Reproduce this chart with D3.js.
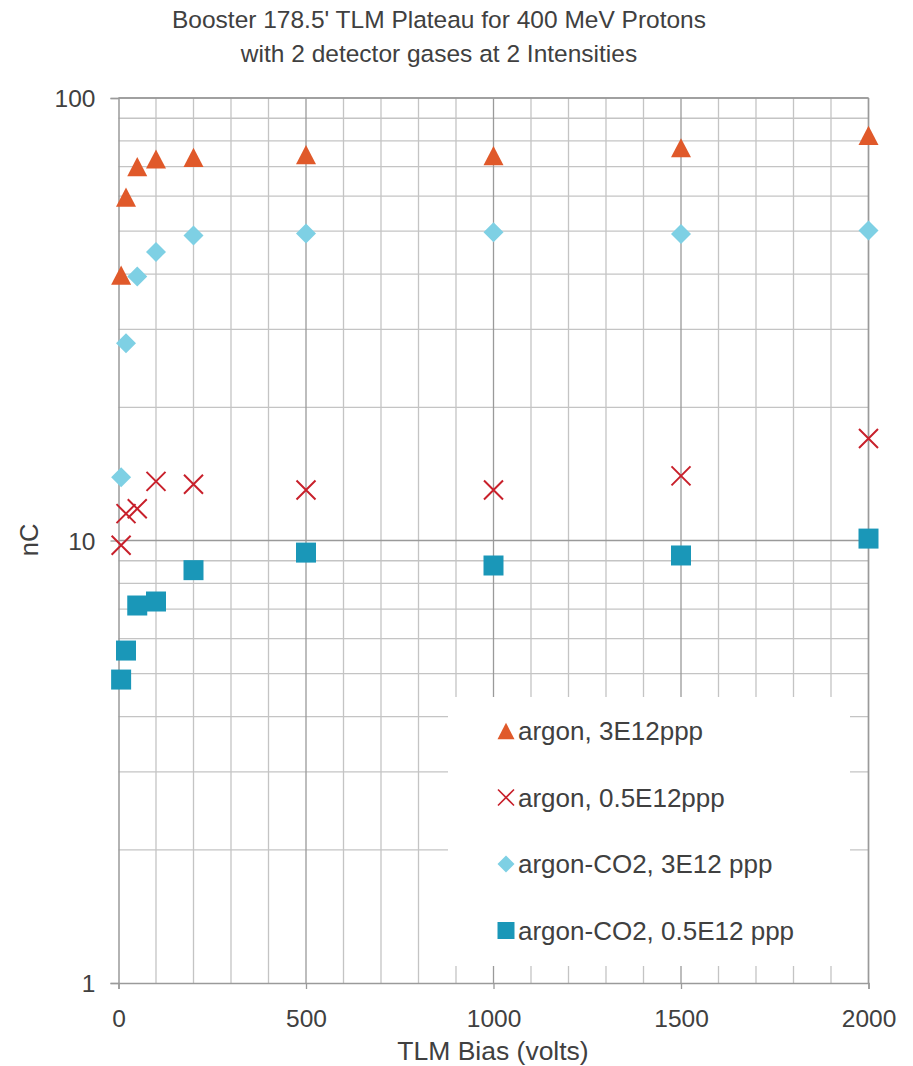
<!DOCTYPE html>
<html>
<head>
<meta charset="utf-8">
<script src="https://cdn.jsdelivr.net/npm/d3@7/dist/d3.min.js"></script>
<style>
  body { margin: 0; background: #fff; }
  svg { font-family: "Liberation Sans", Arial, sans-serif; }
</style>
</head>
<body>
<div id="chart"></div>
<script>
// DATA
const biasVolts = [7, 20, 50, 100, 200, 500, 1000, 1500, 2000];
const argon3E12 = [39.8, 59.7, 70.0, 72.8, 73.4, 74.5, 74.1, 77.2, 82.3];
const argon05E12 = [9.76, 11.5, 11.8, 13.6, 13.4, 13.0, 13.0, 14.0, 17.0];
const argonCO2_3E12 = [13.9, 27.9, 39.5, 44.9, 48.9, 49.4, 49.7, 49.3, 50.2];
const argonCO2_05E12 = [4.85, 5.64, 7.13, 7.28, 8.57, 9.39, 8.78, 9.25, 10.1];
const seriesNames = ["argon, 3E12ppp", "argon, 0.5E12ppp", "argon-CO2, 3E12 ppp", "argon-CO2, 0.5E12 ppp"];
const xTicks = [0, 500, 1000, 1500, 2000];
const yTicks = [1, 10, 100];

// GLOBAL LAYOUT
const width = 913, height = 1066;
const plot = { left: 118.5, right: 868.5, top: 98, bottom: 983 };
const textColor = "#404040";

const svg = d3.select("#chart").append("svg")
  .attr("width", width)
  .attr("height", height);

const x = d3.scaleLinear().domain([0, 2000]).range([plot.left, plot.right]);
const y = d3.scaleLog().domain([1, 100]).range([plot.bottom, plot.top]);

// GRIDLINES
const minorX = d3.range(100, 2000, 100).filter(v => v % 500 !== 0);
const minorY = [];
[1, 10].forEach(d => { for (let k = 2; k <= 9; k++) minorY.push(d * k); });

const grid = svg.append("g");
grid.selectAll(".minor-x").data(minorX).enter().append("line")
  .attr("x1", d => x(d)).attr("x2", d => x(d))
  .attr("y1", plot.top).attr("y2", plot.bottom)
  .attr("stroke", "#c4c4c4").attr("stroke-width", 1.3);
grid.selectAll(".minor-y").data(minorY).enter().append("line")
  .attr("x1", plot.left).attr("x2", plot.right)
  .attr("y1", d => y(d)).attr("y2", d => y(d))
  .attr("stroke", "#c4c4c4").attr("stroke-width", 1.3);
grid.selectAll(".major-x").data(xTicks.slice(1)).enter().append("line")
  .attr("x1", d => x(d)).attr("x2", d => x(d))
  .attr("y1", plot.top).attr("y2", plot.bottom)
  .attr("stroke", "#9a9a9a").attr("stroke-width", 1.3);
grid.selectAll(".major-y").data(yTicks.slice(1)).enter().append("line")
  .attr("x1", plot.left).attr("x2", plot.right)
  .attr("y1", d => y(d)).attr("y2", d => y(d))
  .attr("stroke", "#9a9a9a").attr("stroke-width", 1.3);

// LEGEND BACKGROUND (covers the grid)
const legendBox = { x: 448, y: 697, w: 402, h: 269 };
svg.append("rect")
  .attr("x", legendBox.x).attr("y", legendBox.y)
  .attr("width", legendBox.w).attr("height", legendBox.h)
  .attr("fill", "#fff");

// AXES
const xAxis = d3.axisBottom(x).tickValues(xTicks).tickSize(6).tickPadding(16).tickFormat(d3.format("d"));
const gx = svg.append("g").attr("transform", "translate(0," + plot.bottom + ")").call(xAxis);
const yAxis = d3.axisLeft(y).tickValues(yTicks).tickSize(8).tickPadding(16).tickFormat(d3.format("d"));
const gy = svg.append("g").attr("transform", "translate(" + plot.left + ",0)").call(yAxis);
[gx, gy].forEach(g => {
  g.attr("font-size", null).attr("font-family", null);
  g.select(".domain").attr("stroke", "#9a9a9a").attr("stroke-width", 1.5);
  g.selectAll(".tick line").attr("stroke", "#9a9a9a").attr("stroke-width", 1.3);
  g.selectAll(".tick text").attr("fill", textColor).style("font-size", "24.5px");
});
gx.selectAll(".tick text").attr("y", 27).attr("dy", "0.71em");
gy.selectAll(".tick text").attr("x", -23).attr("dy", "0.35em");

// FRAME TOP + RIGHT
svg.append("line").attr("x1", plot.left).attr("x2", plot.right)
  .attr("y1", plot.top).attr("y2", plot.top)
  .attr("stroke", "#9a9a9a").attr("stroke-width", 1.5);
svg.append("line").attr("x1", plot.right).attr("x2", plot.right)
  .attr("y1", plot.top).attr("y2", plot.bottom)
  .attr("stroke", "#9a9a9a").attr("stroke-width", 1.5);

// MARKER SHAPES
function trianglePath(s) { return "M0," + (-s * 0.48) + "L" + (s / 2) + "," + (s * 0.48) + "L" + (-s / 2) + "," + (s * 0.48) + "Z"; }
function diamondPath(s) { return "M0," + (-s / 2) + "L" + (s / 2) + ",0L0," + (s / 2) + "L" + (-s / 2) + ",0Z"; }
function squarePath(s) { return "M" + (-s / 2) + "," + (-s / 2) + "h" + s + "v" + s + "h" + (-s) + "Z"; }
function crossPath(s) { const h = s / 2; return "M" + (-h) + "," + (-h) + "L" + h + "," + h + "M" + h + "," + (-h) + "L" + (-h) + "," + h; }

const series = [
  { name: seriesNames[0], values: argon3E12, path: trianglePath(20), fill: "#e0592a", stroke: "none" },
  { name: seriesNames[1], values: argon05E12, path: crossPath(19), fill: "none", stroke: "#c8202b" },
  { name: seriesNames[2], values: argonCO2_3E12, path: diamondPath(20), fill: "#7ed0e4", stroke: "none" },
  { name: seriesNames[3], values: argonCO2_05E12, path: squarePath(20), fill: "#1a97b8", stroke: "none" }
];

// DRAW POINTS
series.forEach(s => {
  svg.append("g").selectAll("path")
    .data(biasVolts.map((v, i) => ({ x: v, y: s.values[i] })))
    .enter().append("path")
    .attr("transform", d => "translate(" + x(d.x) + "," + y(d.y) + ")")
    .attr("d", s.path)
    .attr("fill", s.fill)
    .attr("stroke", s.stroke)
    .attr("stroke-width", 2);
});

// LEGEND ITEMS
const legend = svg.append("g").attr("transform", "translate(506,731)");
const items = legend.selectAll(".legend-item").data(series).enter().append("g")
  .attr("transform", (d, i) => "translate(0," + (i * 66.5) + ")");
items.append("path")
  .attr("d", (d, i) => [trianglePath(17), crossPath(16), diamondPath(17), squarePath(17)][i])
  .attr("fill", d => d.fill)
  .attr("stroke", d => d.stroke)
  .attr("stroke-width", 1.6);
items.append("text")
  .attr("x", 12).attr("y", 9)
  .attr("fill", textColor)
  .style("font-size", "26px")
  .text(d => d.name);

// TITLE AND AXIS LABELS
svg.append("text").attr("x", 439).attr("y", 28).attr("text-anchor", "middle")
  .attr("fill", textColor).style("font-size", "24.5px")
  .text("Booster 178.5' TLM Plateau for 400 MeV Protons");
svg.append("text").attr("x", 439).attr("y", 62).attr("text-anchor", "middle")
  .attr("fill", textColor).style("font-size", "24.5px")
  .text("with 2 detector gases at 2 Intensities");
svg.append("text").attr("x", 493).attr("y", 1060).attr("text-anchor", "middle")
  .attr("fill", textColor).style("font-size", "26.5px")
  .text("TLM Bias (volts)");
svg.append("text").attr("transform", "translate(38,540) rotate(-90)").attr("text-anchor", "middle")
  .attr("fill", textColor).style("font-size", "25.5px")
  .text("nC");
</script>
</body>
</html>
